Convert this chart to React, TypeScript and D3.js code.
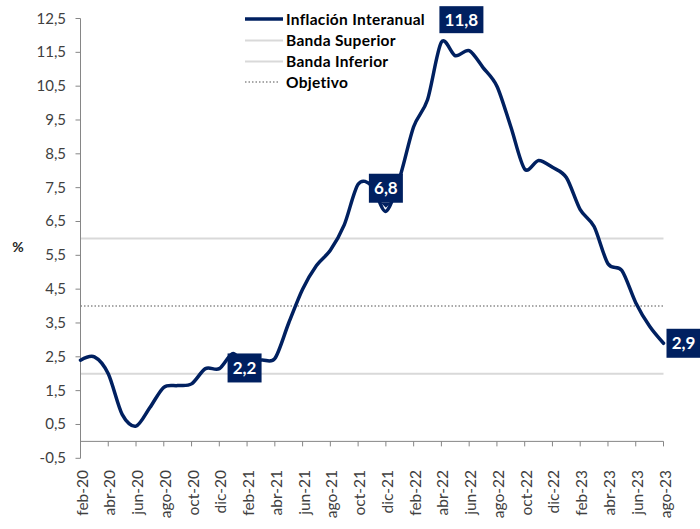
import React from 'react';
import * as d3 from 'd3';

const months = [
  'feb-20','mar-20','abr-20','may-20','jun-20','jul-20','ago-20','sep-20','oct-20','nov-20','dic-20',
  'ene-21','feb-21','mar-21','abr-21','may-21','jun-21','jul-21','ago-21','sep-21','oct-21','nov-21','dic-21',
  'ene-22','feb-22','mar-22','abr-22','may-22','jun-22','jul-22','ago-22','sep-22','oct-22','nov-22','dic-22',
  'ene-23','feb-23','mar-23','abr-23','may-23','jun-23','jul-23','ago-23'
];

const inflacion = [
  2.4, 2.5, 2.0, 0.8, 0.45, 1.0, 1.6, 1.65, 1.7, 2.15, 2.15,
  2.6, 2.2, 2.4, 2.45, 3.5, 4.5, 5.2, 5.65, 6.4, 7.6, 7.55, 6.8,
  7.8, 9.3, 10.1, 11.8, 11.4, 11.55, 11.05, 10.5, 9.3, 8.05, 8.3, 8.1,
  7.8, 6.85, 6.35, 5.25, 5.05, 4.1, 3.4, 2.9
];

const bandaSuperior = 6;
const bandaInferior = 2;
const objetivo = 4;

const yTicks = [-0.5, 0.5, 1.5, 2.5, 3.5, 4.5, 5.5, 6.5, 7.5, 8.5, 9.5, 10.5, 11.5, 12.5];
const xTickLabels = months.filter((_, i) => i % 2 === 0);

const legendLabels = ['Inflación Interanual', 'Banda Superior', 'Banda Inferior', 'Objetivo'];

const labelMonths = ['feb-21', 'dic-21', 'abr-22', 'ago-23'];
const labelValues = [2.2, 6.8, 11.8, 2.9];

const W = 700;
const H = 529;
const NAVY = '#002060';
const AXIS = '#868686';
const FONT = 'Lato, "Open Sans", "DejaVu Sans", sans-serif';

const fmt = (v: number) => v.toFixed(1).replace('.', ',');

export default function App() {
  const x = d3.scalePoint<string>().domain(months).range([80.5, 663.5]);
  const y = d3.scaleLinear().domain([-0.5, 12.5]).range([458.3, 18.5]);
  const left = 80.5;
  const right = 663.5;
  const y0 = y(0);

  const line = d3
    .line<number>()
    .x((_, i) => x(months[i]) as number)
    .y((d) => y(d))
    .curve(d3.curveCardinal.tension(0.1));

  const placements = ['center', 'above', 'aboveRight', 'right'];

  const legendX1 = 245;
  const legendX2 = 283;
  const legendYs = [19, 40.5, 61.5, 82];

  return (
    <svg
      width={W}
      height={H}
      style={{ position: 'absolute', left: 0, top: 0, background: '#fff' }}
      fontFamily={FONT}
    >
      <rect x={0} y={0} width={W} height={H} fill="#fff" />
      {/* reference lines */}
      <line x1={left} x2={right} y1={y(bandaSuperior)} y2={y(bandaSuperior)} stroke="#d9d9d9" strokeWidth={2} />
      <line x1={left} x2={right} y1={y(bandaInferior)} y2={y(bandaInferior)} stroke="#d9d9d9" strokeWidth={2} />
      <line x1={left} x2={right} y1={y(objetivo)} y2={y(objetivo)} stroke="#8c8c8c" strokeWidth={1.5} strokeDasharray="1.5 2" />

      {/* y axis */}
      <line x1={left} x2={left} y1={y(12.5)} y2={y(-0.5)} stroke={AXIS} strokeWidth={1} />
      {yTicks.map((t) => (
        <g key={t}>
          <line x1={left - 5} x2={left} y1={y(t)} y2={y(t)} stroke={AXIS} strokeWidth={1} />
          <text x={66} y={y(t) + 5} textAnchor="end" fontSize={15} fill="#404040">
            {fmt(t)}
          </text>
        </g>
      ))}
      <text x={18} y={252} textAnchor="middle" fontSize={14} fontWeight="bold" fill="#262626">
        %
      </text>

      {/* x axis */}
      <line x1={left} x2={right} y1={y0} y2={y0} stroke={AXIS} strokeWidth={1} />
      {xTickLabels.map((m) => {
        const px = x(m) as number;
        return (
          <g key={m}>
            <line x1={px} x2={px} y1={y0} y2={y0 + 5} stroke={AXIS} strokeWidth={1} />
            <text
              transform={`translate(${px + 7},470) rotate(-90)`}
              textAnchor="end"
              fontSize={15.5}
              fill="#404040"
            >
              {m}
            </text>
          </g>
        );
      })}

      {/* inflation line */}
      <path d={line(inflacion) || ''} fill="none" stroke={NAVY} strokeWidth={3.5} strokeLinejoin="round" strokeLinecap="round" />

      {/* data labels */}
      {labelMonths.map((m, i) => {
        const v = labelValues[i];
        const px = x(m) as number;
        const py = y(v);
        const txt = fmt(v);
        const bw = txt.length === 3 ? 34 : 44;
        const bh = 29;
        let bx = px - bw / 2;
        let by = py - bh / 2;
        const p = placements[i];
        let pointer = null as any;
        if (p === 'center') {
          bx = px - bw / 2 - 2.5;
          by = py - bh / 2 + 1;
        } else if (p === 'above') {
          bx = px - bw / 2;
          by = py - 8.6 - bh;
          pointer = (
            <path d={`M${px - 5},${by + bh} L${px + 5},${by + bh} L${px},${by + bh + 5} Z`} fill={NAVY} />
          );
        } else if (p === 'aboveRight') {
          bx = px - 2;
          by = py - 9 - 27;
        } else if (p === 'right') {
          bx = px + 3;
          by = py - bh / 2;
        }
        const h = p === 'aboveRight' ? 27 : bh;
        return (
          <g key={m}>
            <rect x={bx} y={by} width={bw} height={h} fill={NAVY} />
            {pointer}
            <text
              x={bx + bw / 2}
              y={by + h / 2 + 6}
              textAnchor="middle"
              fontSize={17}
              fontWeight="bold"
              fill="#fff"
            >
              {txt}
            </text>
          </g>
        );
      })}

      {/* legend */}
      {legendLabels.map((lab, i) => {
        const ly = legendYs[i];
        let sample;
        if (i === 0) {
          sample = <line x1={legendX1} x2={legendX2} y1={ly} y2={ly} stroke={NAVY} strokeWidth={3.5} />;
        } else if (i === 3) {
          sample = (
            <line x1={legendX1} x2={legendX2 - 4} y1={ly} y2={ly} stroke="#8c8c8c" strokeWidth={1.5} strokeDasharray="1.5 2" />
          );
        } else {
          sample = <line x1={legendX1} x2={legendX2} y1={ly} y2={ly} stroke="#d9d9d9" strokeWidth={2} />;
        }
        return (
          <g key={lab}>
            {sample}
            <text x={286} y={ly + 5.5} fontSize={15.5} letterSpacing={0.3} fontWeight="bold" fill="#000">
              {lab}
            </text>
          </g>
        );
      })}
    </svg>
  );
}
